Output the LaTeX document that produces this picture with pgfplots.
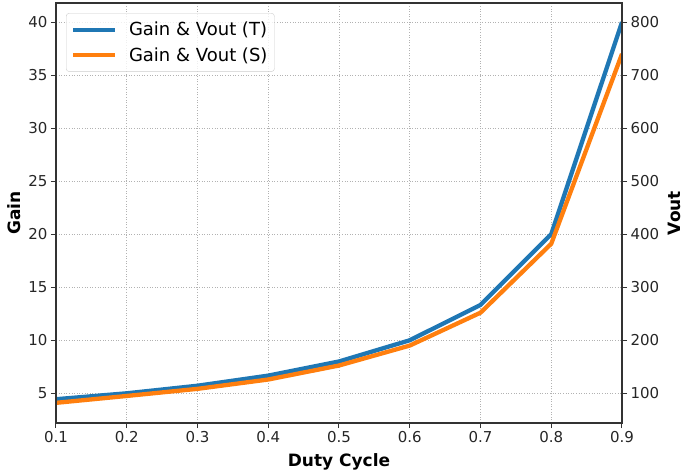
\documentclass[border=0pt]{standalone}
\usepackage{pgfplots}
\pgfplotsset{compat=1.18}
\usepackage{fontspec}
\setmainfont{DejaVu Sans}
\definecolor{tabblue}{HTML}{1F77B4}
\definecolor{taborange}{HTML}{FF7F0E}

\begin{document}
\begin{tikzpicture}
\pgfplotsset{
  common/.style={
    scale only axis, width=566bp, height=420bp,
    xmin=0.1, xmax=0.9,
    /pgf/number format/assume math mode=true,
    tick label style={font=\fontsize{15bp}{17bp}\selectfont, text=black!85},
    tick align=outside,
    major tick length=5bp,
    every tick/.style={black!80, line width=1bp},
    axis line style={black!80, line width=1.2bp},
  }
}
\begin{axis}[common,
  ymin=2.2, ymax=41.8,
  xtick={0.1,0.2,0.3,0.4,0.5,0.6,0.7,0.8,0.9},
  xticklabel style={/pgf/number format/.cd, fixed, precision=1, fixed zerofill},
  ytick={5,10,15,20,25,30,35,40},
  xtick pos=bottom, ytick pos=left,
  grid=major,
  major grid style={black!30, line width=0.8bp, dash pattern=on 1bp off 1.6bp},
  xlabel={Duty Cycle}, ylabel={Gain},
  xlabel style={font=\fontsize{17bp}{20bp}\selectfont\bfseries, yshift=-4bp},
  ylabel style={font=\fontsize{17bp}{20bp}\selectfont\bfseries, yshift=1bp},
  legend style={at={(0.0177,0.976)}, anchor=north west, draw=black!20, rounded corners=3bp,
    font=\fontsize{18bp}{21bp}\selectfont, fill=white, fill opacity=0.8, text opacity=1,
    row sep=6bp, inner xsep=5bp, inner ysep=7bp,
    /tikz/every odd column/.append style={column sep=10bp}},
  legend cell align=left,
  legend image code/.code={\draw[#1, line width=3.8bp] (0bp,0bp) -- (42bp,0bp);},
]
\addplot[tabblue, line width=4.3bp, line join=round] coordinates {
(0.1,4.444)(0.2,5)(0.3,5.714)(0.4,6.667)(0.5,8)(0.6,10)(0.7,13.333)(0.8,20)(0.9,40)};
\addlegendentry{Gain \& Vout (T)}
\addplot[taborange, line width=4.3bp, line join=round] coordinates {
(0.1,4.1)(0.2,4.75)(0.3,5.42)(0.4,6.3)(0.5,7.62)(0.6,9.5)(0.7,12.6)(0.8,19.1)(0.9,37.0)};
\addlegendentry{Gain \& Vout (S)}
\end{axis}
\begin{axis}[common,
  ymin=44, ymax=836,
  xtick=\empty,
  ytick={100,200,300,400,500,600,700,800},
  ytick pos=right,
  yticklabel pos=right,
  ylabel={Vout},
  ylabel near ticks,
  ylabel style={font=\fontsize{17bp}{20bp}\selectfont\bfseries, yshift=-2bp},
]
\end{axis}
\pgfresetboundingbox
\useasboundingbox (-56bp,-53bp) rectangle (629bp,423bp);
\end{tikzpicture}
\end{document}
